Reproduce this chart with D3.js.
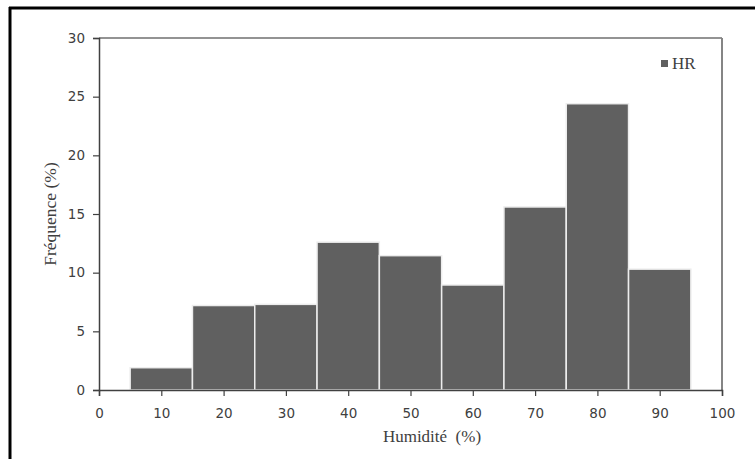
<!DOCTYPE html>
<html><head><meta charset="utf-8">
<script src="https://cdn.jsdelivr.net/npm/d3@7"></script>
<style>body{margin:0;background:#fff}svg{display:block}</style>
</head><body>
<script>
const binStarts = [5,15,25,35,45,55,65,75,85];
const binWidth = 10;
const frequencies = [1.9,7.2,7.3,12.6,11.45,8.95,15.6,24.4,10.3];
const xTicks = [0,10,20,30,40,50,60,70,80,90,100];
const yTicks = [0,5,10,15,20,25,30];
const seriesName = "HR";

const W=755,H=459;
const svg=d3.select("body").append("svg").attr("width",W).attr("height",H);
svg.append("rect").attr("width",W).attr("height",H).attr("fill","#fff");
// outer black frame (left and top visible)
svg.append("line").attr("x1",10).attr("x2",10).attr("y1",7).attr("y2",H).attr("stroke","#000").attr("stroke-width",3);
svg.append("line").attr("x1",9).attr("x2",W).attr("y1",8).attr("y2",8).attr("stroke","#000").attr("stroke-width",3);

const L=99,R=722,T=38,B=390;
const x=d3.scaleLinear().domain([0,100]).range([L,R]);
const y=d3.scaleLinear().domain([0,30]).range([B,T]);

// plot frame top & right
svg.append("line").attr("x1",L).attr("x2",R).attr("y1",T).attr("y2",T).attr("stroke","#6f6f6f").attr("stroke-width",1.5);
svg.append("line").attr("x1",R).attr("x2",R).attr("y1",T).attr("y2",B).attr("stroke","#858585").attr("stroke-width",2);

// bars
svg.append("g").selectAll("rect").data(binStarts).join("rect")
  .attr("x",(d)=>x(d)).attr("width",(d)=>x(d+binWidth)-x(d))
  .attr("y",(d,i)=>y(frequencies[i])).attr("height",(d,i)=>B-y(frequencies[i]))
  .attr("fill","#606060").attr("stroke","#ededed").attr("stroke-width",1.5);

const tickFont='"DejaVu Sans", Verdana, sans-serif';
// y axis
const ya=svg.append("g").attr("transform",`translate(${L},0)`)
  .call(d3.axisLeft(y).tickValues(yTicks).tickSize(6).tickPadding(8));
ya.select(".domain").attr("stroke","#404040").attr("stroke-width",1.5);
ya.selectAll(".tick line").attr("stroke","#404040").attr("stroke-width",1.2);
ya.selectAll("text").attr("font-family",tickFont).attr("font-size",13.5).attr("fill","#404040");
// x axis
const xa=svg.append("g").attr("transform",`translate(0,${B})`)
  .call(d3.axisBottom(x).tickValues(xTicks).tickSize(6).tickPadding(12));
xa.select(".domain").attr("stroke","#404040").attr("stroke-width",1.5);
xa.selectAll(".tick line").attr("stroke","#404040").attr("stroke-width",1.2);
xa.selectAll("text").attr("font-family",tickFont).attr("font-size",13.5).attr("fill","#404040");

const serif='"Liberation Serif","DejaVu Serif",serif';
svg.append("text").attr("x",432).attr("y",442).attr("text-anchor","middle")
  .attr("font-family",serif).attr("font-size",17).attr("fill","#404040")
  .attr("xml:space","preserve").text("Humidité  (%)");
svg.append("text").attr("transform","translate(56,214) rotate(-90)").attr("text-anchor","middle")
  .attr("font-family",serif).attr("font-size",17.5).attr("fill","#404040").text("Fréquence (%)");

// legend
svg.append("rect").attr("x",661).attr("y",60).attr("width",7).attr("height",7).attr("fill","#606060");
svg.append("text").attr("x",672).attr("y",69).attr("font-family",serif).attr("font-size",17)
  .attr("fill","#404040").text(seriesName);
</script>
</body></html>
